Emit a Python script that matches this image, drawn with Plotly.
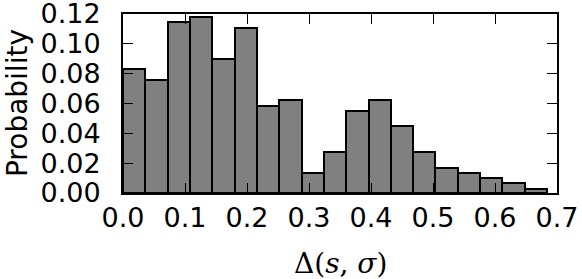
import plotly.graph_objects as go

# histogram of Delta(s, sigma)
bin_width = 0.036
probability = [0.083, 0.076, 0.1145, 0.118, 0.090, 0.1107, 0.0586, 0.0622, 0.0134, 0.0273,
               0.0552, 0.0624, 0.0447, 0.0273, 0.017, 0.0134, 0.0101, 0.0067, 0.0029]
bin_centers = [bin_width * (i + 0.5) for i in range(len(probability))]

x_ticks = [0.0, 0.1, 0.2, 0.3, 0.4, 0.5, 0.6, 0.7]
y_ticks = [0.00, 0.02, 0.04, 0.06, 0.08, 0.10, 0.12]

fig = go.Figure()
fig.add_trace(go.Bar(x=bin_centers, y=probability, width=bin_width,
                     marker=dict(color='#808080', line=dict(color='black', width=2))))

axis_style = dict(showgrid=False, zeroline=False, showline=True, linecolor='black', linewidth=2,
                  mirror='ticks', ticks='inside', ticklen=10, tickwidth=1, tickcolor='black',
                  automargin=False, ticklabeloverflow='allow', layer='above traces',
                  tickfont=dict(family='DejaVu Sans', size=27, color='black'))

fig.update_layout(width=582, height=279, plot_bgcolor='white', paper_bgcolor='white',
                  margin=dict(l=123, r=25, t=14, b=86), showlegend=False, bargap=0,
                  xaxis=dict(range=[0, 0.7], tickvals=x_ticks,
                             ticktext=['%.1f' % v for v in x_ticks], ticklabelstandoff=0, **axis_style),
                  yaxis=dict(range=[0, 0.12], tickvals=y_ticks,
                             ticktext=['%.2f' % v for v in y_ticks], ticklabelstandoff=15, **axis_style))

fig.add_annotation(text='Δ(<i>s</i>, <i>σ</i>)', xref='paper', yref='paper', x=0.5, y=-0.29,
                   xanchor='center', yanchor='top', showarrow=False,
                   font=dict(family='DejaVu Serif', size=28, color='black'))
fig.add_annotation(text='Probability', xref='paper', yref='paper', x=-0.243, y=0.5, textangle=-90,
                   xanchor='center', yanchor='middle', showarrow=False,
                   font=dict(family='DejaVu Sans', size=28, color='black'))

# drop the default 8px body margin so the figure fills the window
fig.write_html("out.html", config={'displayModeBar': False},
               post_script="document.body.style.margin='0px';")
